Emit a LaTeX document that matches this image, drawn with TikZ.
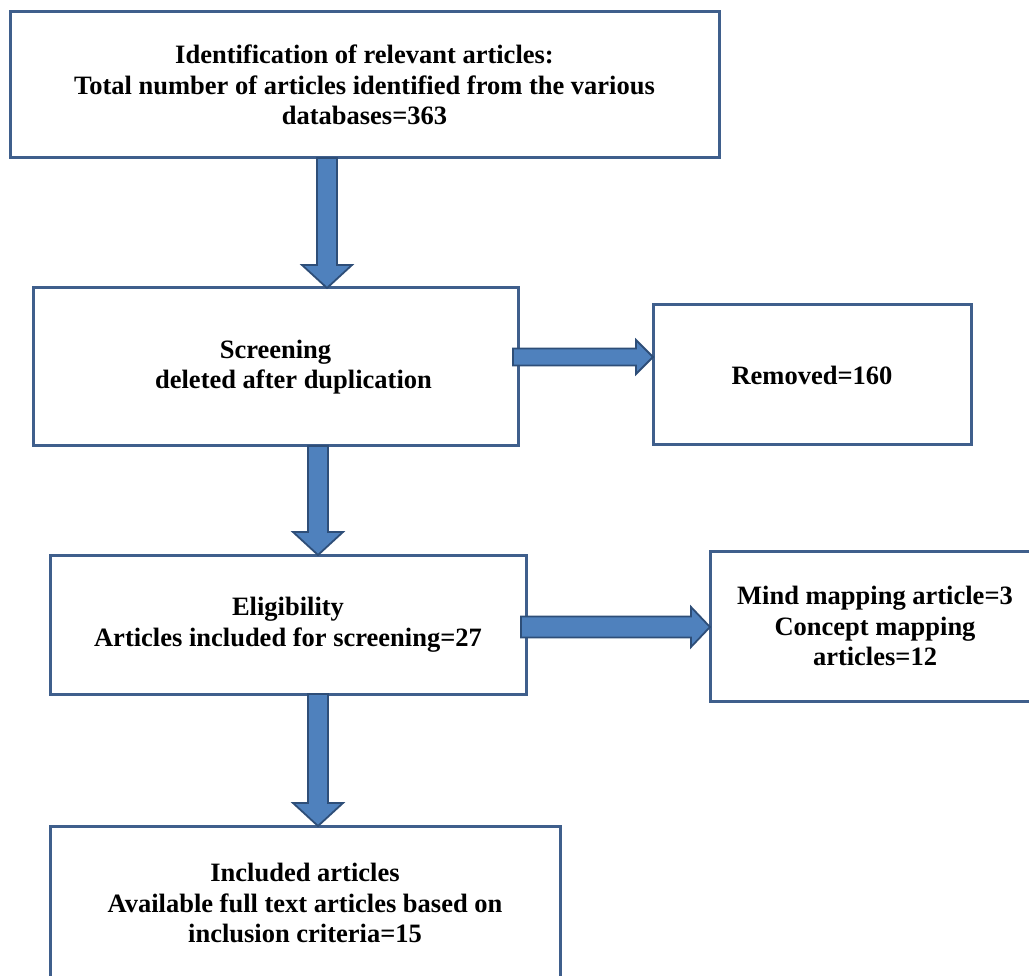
\documentclass[tikz,border=0pt]{standalone}
\usepackage{fontspec}
\setmainfont{Liberation Serif}
\usetikzlibrary{calc}
\definecolor{boxline}{HTML}{3F5F8C}
\definecolor{arrfill}{HTML}{4F81BD}
\definecolor{arrline}{HTML}{2E4E78}
\tikzset{
  flowbox/.style={draw=boxline, line width=3pt, outer sep=0pt, inner sep=0pt,
    align=center, font=\fontsize{26.5}{30.5}\selectfont\bfseries, fill=white},
  barrow/.style={fill=arrfill, draw=arrline, line width=1.8pt, line join=miter}
}
\newcommand\barrowv[3]{%
  \draw[barrow] let \p1=(#1.south), \p2=(#2.north) in
    (#3pt-10pt,\y1) -- (#3pt+10pt,\y1) -- (#3pt+10pt,\y2+23pt) -- (#3pt+25pt,\y2+23pt)
    -- (#3pt,\y2) -- (#3pt-25pt,\y2+23pt) -- (#3pt-10pt,\y2+23pt) -- cycle;}
\newcommand\barrowh[6]{% from, to, y, shaft half, head half, head length
  \draw[barrow] let \p1=(#1.east), \p2=(#2.west) in
    (\x1-5pt,-#3pt+#4pt) -- (\x2-#6pt,-#3pt+#4pt) -- (\x2-#6pt,-#3pt+#5pt) -- (\x2,-#3pt)
    -- (\x2-#6pt,-#3pt-#5pt) -- (\x2-#6pt,-#3pt-#4pt) -- (\x1-5pt,-#3pt-#4pt) -- cycle;}
\begin{document}
\begin{tikzpicture}[x=1pt,y=-1pt]
\useasboundingbox (0,0) rectangle (1029,976);
\begin{scope}
\clip (0,0) rectangle (1029,976);
\node[flowbox, minimum width=709pt, minimum height=146pt] (top) at (364.5,85)
  {Identification of relevant articles:\\Total number of articles identified from the various\\databases=363};
\node[flowbox, minimum width=485pt, minimum height=158pt] (screen) at (275.5,367)
  {Screening\\\hspace*{36pt}deleted after duplication};
\node[flowbox, minimum width=318pt, minimum height=140pt] (removed) at (812,375)
  {Removed=160};
\node[flowbox, minimum width=476pt, minimum height=139pt] (elig) at (288,624.5)
  {Eligibility\\Articles included for screening=27};
\node[flowbox, minimum width=330pt, minimum height=150pt] (mind) at (875,626)
  {Mind mapping article=3\\Concept mapping\\articles=12};
\node[flowbox, minimum width=510pt, minimum height=154pt] (incl) at (305,903)
  {Included articles\\Available full text articles based on\\inclusion criteria=15};
\barrowv{top}{screen}{327}
\barrowv{screen}{elig}{318}
\barrowv{elig}{incl}{318}
\barrowh{screen}{removed}{357}{8.5}{17}{17}
\barrowh{elig}{mind}{627}{10.5}{20}{19}
\end{scope}
\end{tikzpicture}
\end{document}
